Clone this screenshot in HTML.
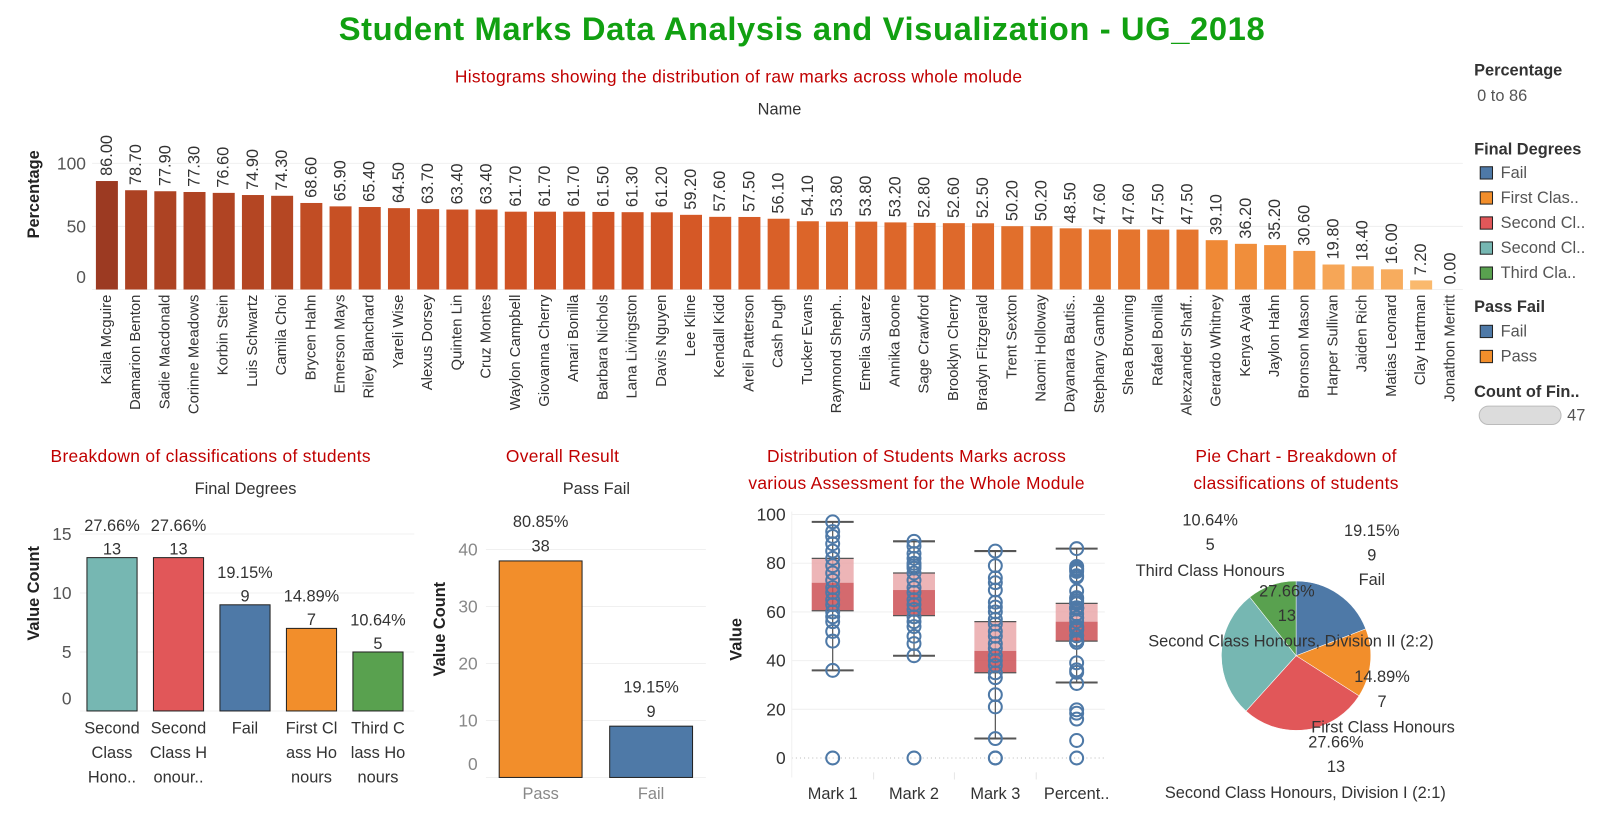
<!DOCTYPE html>
<html><head><meta charset="utf-8"><style>
html,body{margin:0;padding:0;background:#fff;overflow:hidden}
svg{display:block;font-family:"Liberation Sans",sans-serif}
</style></head><body>
<svg id="root" width="1604" height="818" viewBox="0 0 1604 818">
<g id="g" transform="scale(1.02296)"></g>
</svg>
<script>
// ---- data ----
const names = ["Kaila Mcguire","Damarion Benton","Sadie Macdonald","Corinne Meadows","Korbin Stein","Luis Schwartz","Camila Choi","Brycen Hahn","Emerson Mays","Riley Blanchard","Yareli Wise","Alexus Dorsey","Quinten Lin","Cruz Montes","Waylon Campbell","Giovanna Cherry","Amari Bonilla","Barbara Nichols","Lana Livingston","Davis Nguyen","Lee Kline","Kendall Kidd","Areli Patterson","Cash Pugh","Tucker Evans","Raymond Sheph..","Emelia Suarez","Annika Boone","Sage Crawford","Brooklyn Cherry","Bradyn Fitzgerald","Trent Sexton","Naomi Holloway","Dayanara Bautis..","Stephany Gamble","Shea Browning","Rafael Bonilla","Alexzander Shaff..","Gerardo Whitney","Kenya Ayala","Jaylon Hahn","Bronson Mason","Harper Sullivan","Jaiden Rich","Matias Leonard","Clay Hartman","Jonathon Merritt"];
const percentages = [86.00,78.70,77.90,77.30,76.60,74.90,74.30,68.60,65.90,65.40,64.50,63.70,63.40,63.40,61.70,61.70,61.70,61.50,61.30,61.20,59.20,57.60,57.50,56.10,54.10,53.80,53.80,53.20,52.80,52.60,52.50,50.20,50.20,48.50,47.60,47.60,47.50,47.50,39.10,36.20,35.20,30.60,19.80,18.40,16.00,7.20,0.00];
const histTicks = [0,50,100];

const degreeCats = [["Second","Class","Hono.."],["Second","Class H","onour.."],["Fail"],["First Cl","ass Ho","nours"],["Third C","lass Ho","nours"]];
const degreeCounts = [13,13,9,7,5];
const degreePct = ["27.66%","27.66%","19.15%","14.89%","10.64%"];
const degreeColors = ["#76b7b2","#e15759","#4e79a7","#f28e2b","#59a14f"];
const degreeTicks = [0,5,10,15];

const pfCats = ["Pass","Fail"];
const pfCounts = [38,9];
const pfPct = ["80.85%","19.15%"];
const pfColors = ["#f28e2b","#4e79a7"];
const pfTicks = [0,10,20,30,40];

const boxCats = ["Mark 1","Mark 2","Mark 3","Percent.."];
const boxQ1 = [60.5,58.5,35,48];
const boxMed = [72,69,44,56];
const boxQ3 = [82,76,56,63.5];
const boxLo = [36,42,8,31];
const boxHi = [97,89,85,86];
const mark1 = [97,93,91,88,85,82,79,76,73,70,68,65,63,60,58,56,52,48,36,0];
const mark2 = [89,87,84,82,80,79,78,76,73,70,68,65,63,61,58,56,54,50,47,42,0];
const mark3 = [85,79,74,72,69,64,62,60,57,55,52,50,47,45,42,40,38,35,33,26,21,8,0,0];
const boxTicks = [0,20,40,60,80,100];

const pieCats = ["Fail","First Class Honours","Second Class Honours, Division I (2:1)","Second Class Honours, Division II (2:2)","Third Class Honours"];
const pieCounts = [9,7,13,13,5];
const piePct = ["19.15%","14.89%","27.66%","27.66%","10.64%"];
const pieColors = ["#4e79a7","#f28e2b","#e15759","#76b7b2","#59a14f"];

const NS="http://www.w3.org/2000/svg";
const G=document.getElementById('g');
function el(tag,attrs,parent,txt){const e=document.createElementNS(NS,tag);for(const k in attrs)e.setAttribute(k,attrs[k]);if(txt!==undefined)e.textContent=txt;(parent||G).appendChild(e);return e;}
function text(x,y,s,o,parent){o=o||{};const e=el('text',{x:x,y:y,'font-size':o.fs||16,fill:o.fill||'#333','text-anchor':o.anchor||'middle','dominant-baseline':'central','font-weight':o.fw||'normal'},parent,s);if(o.tr)e.setAttribute('transform',o.tr);if(o.ls)e.setAttribute('letter-spacing',o.ls);return e;}

// titles
let t=text(784,28,"Student Marks Data Analysis and Visualization - UG_2018",{fs:32,fw:'bold',fill:'#11a011',ls:'0.6'});

t=text(722,75,"Histograms showing the distribution of raw marks across whole molude",{fs:17,fill:'#c00000',ls:'0.3'});

t=text(762,107,"Name",{fs:16,fill:'#333'});


// ---- histogram ----
const hg=el('g',{});

const hY=v=>283-v*1.233;
const hX=i=>104.5+i*28.55;
histTicks.forEach(v=>{
  el('line',{x1:90,x2:1430,y1:hY(v),y2:hY(v),stroke:'#f0f0f0'},hg);
  const l=text(84,Math.min(hY(v),271),String(v),{fs:17,anchor:'end',fill:'#555'},hg);
  
});
t=text(33,190,"Percentage",{fs:16,fw:'bold',fill:'#222',tr:'rotate(-90 33 190)'},hg);

function lerp(a,b,f){return a.map((x,i)=>Math.round(x+(b[i]-x)*f));}
const stops=[[0,[252,196,122]],[40,[239,136,52]],[60,[212,86,37]],[86,[156,58,34]]];
function col(v){for(let i=1;i<stops.length;i++){if(v<=stops[i][0]){const f=(v-stops[i-1][0])/(stops[i][0]-stops[i-1][0]);return 'rgb('+lerp(stops[i-1][1],stops[i][1],f).join(',')+')';}}return 'rgb(156,58,34)';}
percentages.forEach((v,i)=>{
  const cx=hX(i);
  const b=el('rect',{x:cx-10.75,y:hY(v),width:21.5,height:Math.max(0,283-hY(v)),fill:col(v)},hg);
  
  const y=hY(v)-5;
  const l=text(cx,y,v.toFixed(2),{fs:16,anchor:'start',fill:'#333',tr:'rotate(-90 '+cx+' '+y+')'},hg);
  
  const ny=288;
  const n=text(cx,ny,names[i],{fs:14.5,anchor:'end',fill:'#333',tr:'rotate(-90 '+cx+' '+ny+')'},hg);
  
});

// ---- degrees bar chart ----
const dg=el('g',{});

t=text(206,446,"Breakdown of classifications of students",{fs:17,fill:'#c00000',ls:'0.3'},dg);

t=text(240,478,"Final Degrees",{fs:16},dg);

const dY=v=>695-v*11.53;
const dX=i=>109.5+i*65;
degreeTicks.forEach(v=>{
  el('line',{x1:78,x2:405,y1:dY(v),y2:dY(v),stroke:'#f0f0f0'},dg);
  const l=text(70,Math.min(dY(v),683),String(v),{fs:17,anchor:'end',fill:'#555'},dg);
  
});
t=text(33,580,"Value Count",{fs:16,fw:'bold',fill:'#222',tr:'rotate(-90 33 580)'},dg);

degreeCounts.forEach((v,i)=>{
  const cx=dX(i);
  const b=el('rect',{x:cx-24.5,y:dY(v),width:49,height:695-dY(v),fill:degreeColors[i],stroke:'#222','stroke-width':1},dg);
  
  let l=text(cx,dY(v)-31,degreePct[i],{fs:16},dg);
  
  l=text(cx,dY(v)-8,String(v),{fs:16},dg);
  
  degreeCats[i].forEach((s,j)=>{const c=text(cx,712+j*24,s,{fs:16},dg);
    });
});

// ---- pass/fail ----
const pg=el('g',{});

t=text(550,446,"Overall Result",{fs:17,fill:'#c00000',ls:'0.3'},pg);

t=text(583,478,"Pass Fail",{fs:16},pg);

const pY=v=>760-v*5.57;
const pX=i=>528.5+i*108;
pfTicks.forEach(v=>{
  el('line',{x1:475,x2:690,y1:pY(v),y2:pY(v),stroke:'#f0f0f0'},pg);
  const l=text(467,Math.min(pY(v),747),String(v),{fs:17,anchor:'end',fill:'#888'},pg);
  
});
t=text(430,615,"Value Count",{fs:16,fw:'bold',fill:'#222',tr:'rotate(-90 430 615)'},pg);

pfCounts.forEach((v,i)=>{
  const cx=pX(i);
  const b=el('rect',{x:cx-40.5,y:pY(v),width:81,height:760-pY(v),fill:pfColors[i],stroke:'#222','stroke-width':1},pg);
  
  let l=text(cx,pY(v)-38,pfPct[i],{fs:16},pg);
  
  l=text(cx,pY(v)-14,String(v),{fs:16},pg);
  
  l=text(cx,776,pfCats[i],{fs:16,fill:'#888'},pg);
  
});

// ---- box plot ----
const bg=el('g',{});

t=text(896,446,"Distribution of Students Marks across",{fs:17,fill:'#c00000',ls:'0.3'},bg);

t=text(896,472,"various Assessment for the Whole Module",{fs:17,fill:'#c00000',ls:'0.3'},bg);

const bY=v=>741-v*2.38;
const bX=i=>814+i*79.5;
boxTicks.forEach(v=>{
  if(v>0)el('line',{x1:774,x2:1080,y1:bY(v),y2:bY(v),stroke:'#f0f0f0'},bg);
  const l=text(768,bY(v),String(v),{fs:17,anchor:'end',fill:'#333'},bg);
  
});
el('line',{x1:774,x2:1080,y1:bY(0),y2:bY(0),stroke:'#bbb','stroke-dasharray':'1 3'},bg);
el('line',{x1:774,x2:774,y1:500,y2:760,stroke:'#f0f0f0'},bg);
[854,933,1013].forEach(x=>el('line',{x1:x,x2:x,y1:755,y2:762,stroke:'#e6e6e6'},bg));
t=text(720,625,"Value",{fs:16,fw:'bold',fill:'#222',tr:'rotate(-90 720 625)'},bg);

const series=[mark1,mark2,mark3,percentages];
boxCats.forEach((c,i)=>{
  const cx=bX(i);
  el('line',{x1:cx,x2:cx,y1:bY(boxHi[i]),y2:bY(boxLo[i]),stroke:'#555','stroke-width':1.2},bg);
  const u=el('rect',{x:cx-20.5,y:bY(boxQ3[i]),width:41,height:bY(boxMed[i])-bY(boxQ3[i]),fill:'#e9a3a5','fill-opacity':0.8},bg);
  
  const lo=el('rect',{x:cx-20.5,y:bY(boxMed[i]),width:41,height:bY(boxQ1[i])-bY(boxMed[i]),fill:'#cc5055','fill-opacity':0.85},bg);
  
  el('line',{x1:cx-20.5,x2:cx+20.5,y1:bY(boxQ3[i]),y2:bY(boxQ3[i]),stroke:'#555','stroke-width':1.2},bg);
  el('line',{x1:cx-20.5,x2:cx+20.5,y1:bY(boxQ1[i]),y2:bY(boxQ1[i]),stroke:'#555','stroke-width':1.2},bg);
  [boxHi[i],boxLo[i]].forEach(v=>el('line',{x1:cx-20.5,x2:cx+20.5,y1:bY(v),y2:bY(v),stroke:'#555','stroke-width':2},bg));
  series[i].forEach(v=>{
    const p=el('circle',{cx:cx,cy:bY(v),r:6.3,fill:'none',stroke:'#4e79a7','stroke-width':2},bg);
    
  });
  const l=text(cx,776,c,{fs:16},bg);
  
});

// ---- pie ----
const qg=el('g',{});

t=text(1267,446,"Pie Chart - Breakdown of",{fs:17,fill:'#c00000',ls:'0.3'},qg);

t=text(1267,472,"classifications of students",{fs:17,fill:'#c00000',ls:'0.3'},qg);

const pcx=1267,pcy=641,pr=73;
const total=pieCounts.reduce((a,b)=>a+b,0);
let ang=0;
pieCounts.forEach((v,i)=>{
  const a0=ang,a1=ang+v/total*2*Math.PI;ang=a1;
  const x0=pcx+pr*Math.sin(a0),y0=pcy-pr*Math.cos(a0),x1=pcx+pr*Math.sin(a1),y1=pcy-pr*Math.cos(a1);
  const s=el('path',{d:`M${pcx},${pcy}L${x0},${y0}A${pr},${pr} 0 ${a1-a0>Math.PI?1:0} 1 ${x1},${y1}Z`,fill:pieColors[i],stroke:'#fff','stroke-width':0.5},qg);
  
});
const pieLabelPos=[[1341,519],[1351,662],[1306,726],[1258,578],[1183,509]];
const pieNamePos=[[1341,567],[1352,711],[1276,775],[1262,627],[1183,558]];
pieCounts.forEach((v,i)=>{
  const [x,y]=pieLabelPos[i];
  let l=text(x,y,piePct[i],{fs:16},qg);
  
  l=text(x,y+24,String(v),{fs:16},qg);
  
  const [nx,ny]=pieNamePos[i];
  l=text(nx,ny,pieCats[i],{fs:16},qg);
  
});

// ---- legend ----
const lg=el('g',{});

function lt(x,y,s,o,name){const e=text(x,y,s,Object.assign({anchor:'start'},o),lg);return e;}
lt(1441,69,"Percentage",{fs:16,fw:'bold',fill:'#333'},'legend-percentage-title');
lt(1444,94,"0 to 86",{fs:16,fill:'#555'},'legend-percentage-range');
lt(1441,146,"Final Degrees",{fs:16,fw:'bold',fill:'#333'},'legend-final-degrees-title');
const legDeg=["Fail","First Clas..","Second Cl..","Second Cl..","Third Cla.."];
const legDegCol=["#4e79a7","#f28e2b","#e15759","#76b7b2","#59a14f"];
legDeg.forEach((s,i)=>{const y=169+i*24.5;
  const r=el('rect',{x:1447,y:y-6,width:12,height:12,fill:legDegCol[i],stroke:'#222','stroke-width':1},lg);
  
  lt(1467,y,s,{fs:16,fill:'#555'},'legend-entry');});
lt(1441,300,"Pass Fail",{fs:16,fw:'bold',fill:'#333'},'legend-pass-fail-title');
[["Fail","#4e79a7"],["Pass","#f28e2b"]].forEach((d,i)=>{const y=324+i*24.5;
  const r=el('rect',{x:1447,y:y-6,width:12,height:12,fill:d[1],stroke:'#222','stroke-width':1},lg);
  
  lt(1467,y,d[0],{fs:16,fill:'#555'},'legend-entry');});
lt(1441,383,"Count of Fin..",{fs:16,fw:'bold',fill:'#333'},'legend-count-title');
const pill=el('rect',{x:1446,y:397,width:80,height:18,rx:9,fill:'#dcdcdc',stroke:'#bbb'},lg);

lt(1532,406,"47",{fs:16,fill:'#555'},'legend-count-value');
</script>
</body></html>
